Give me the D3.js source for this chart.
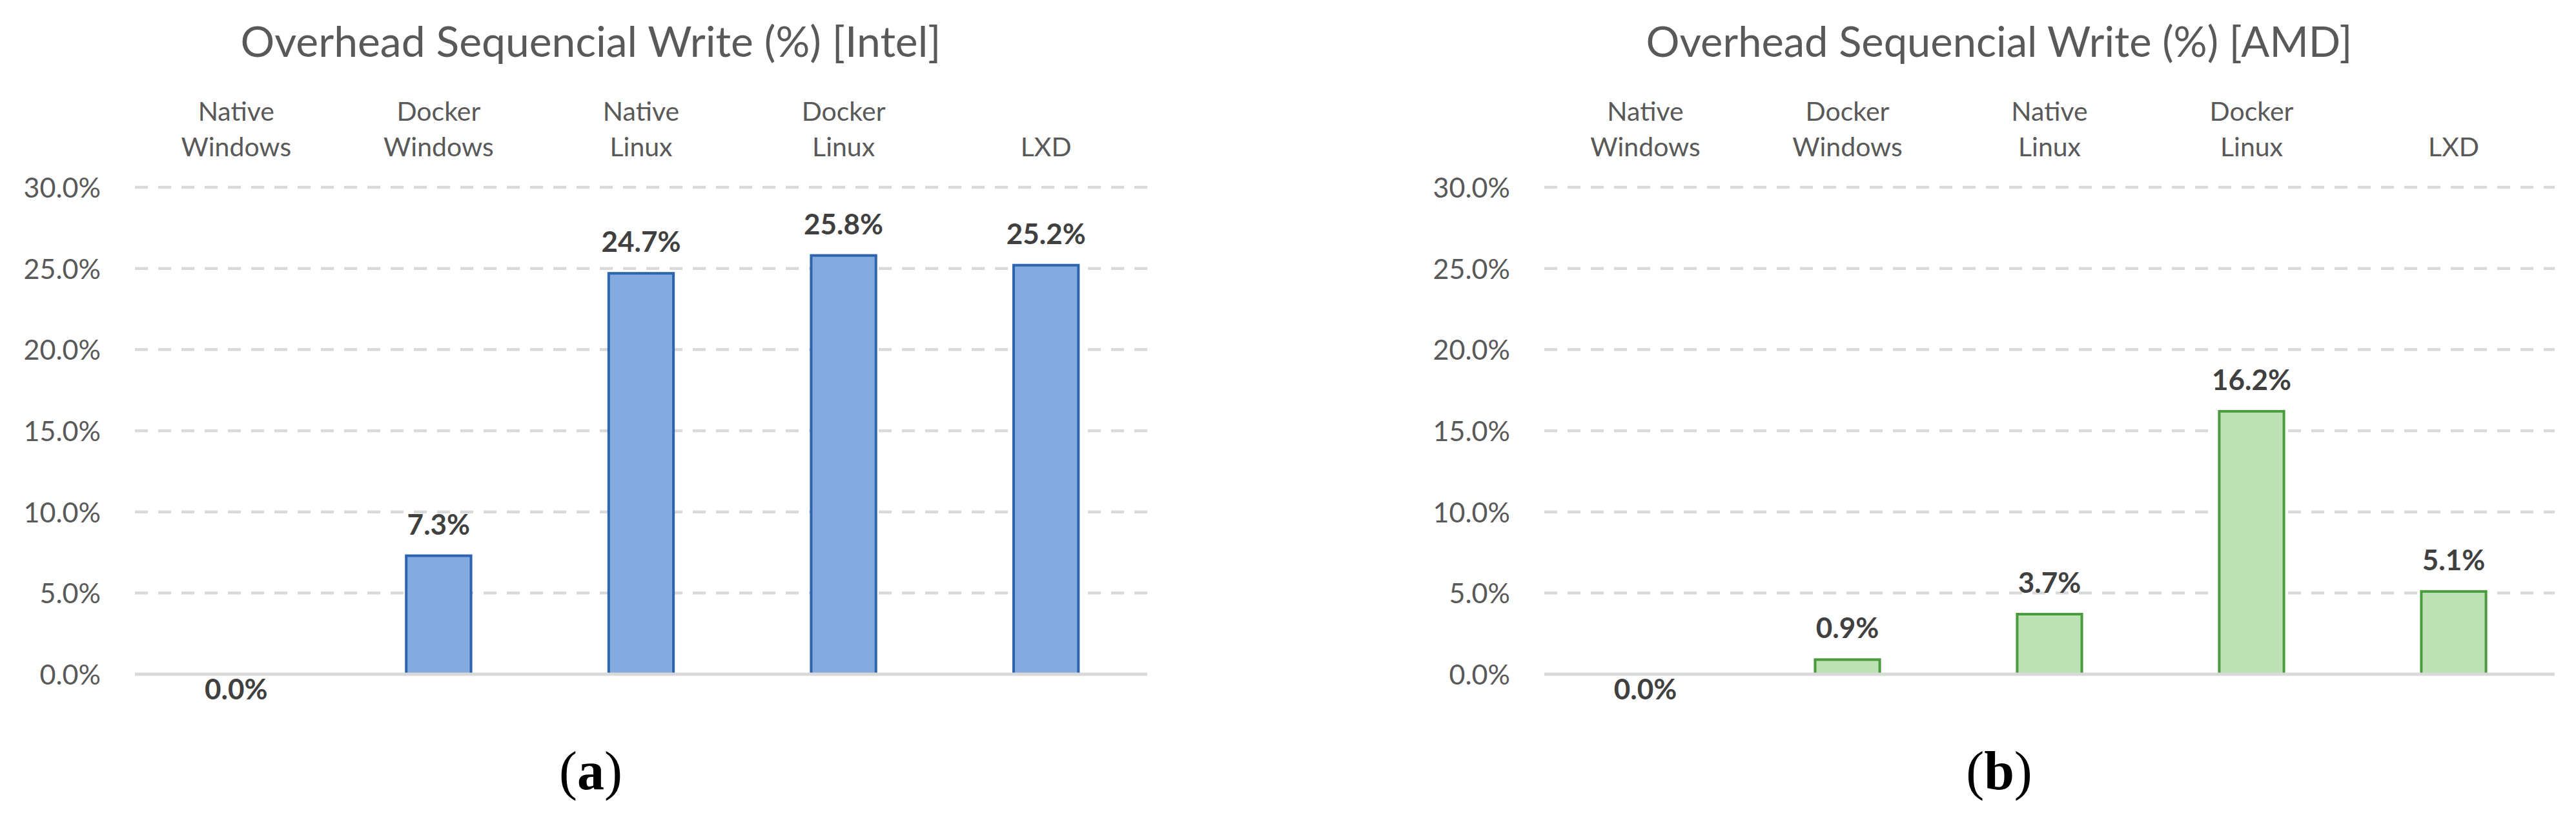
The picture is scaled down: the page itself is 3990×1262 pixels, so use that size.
<!DOCTYPE html>
<html>
<head>
<meta charset="utf-8">
<script src="https://cdn.jsdelivr.net/npm/d3@7"></script>
<style>
  html, body { margin: 0; padding: 0; background: #ffffff; }
  svg { display: block; }
</style>
</head>
<body>
<svg id="chart" width="3990" height="1262"></svg>
<script>
// ---------------- data ----------------
const categories = [["Native", "Windows"], ["Docker", "Windows"], ["Native", "Linux"], ["Docker", "Linux"], ["", "LXD"]];
const categoryKeys = ["Native Windows", "Docker Windows", "Native Linux", "Docker Linux", "LXD"];
const intelValues = [0.0, 7.3, 24.7, 25.8, 25.2];
const amdValues = [0.0, 0.9, 3.7, 16.2, 5.1];
const yTicks = [0, 5, 10, 15, 20, 25, 30];
const titles = ["Overhead Sequencial Write (%) [Intel]", "Overhead Sequencial Write (%) [AMD]"];
const captions = ["a", "b"];

// ---------------- layout / style ----------------
const panels = [
  { x0: 209, x1: 1777, values: intelValues, title: titles[0], caption: captions[0], fill: "#84ABDF", stroke: "#2C64AE", titleW: 1083 },
  { x0: 2392, x1: 3957, values: amdValues, title: titles[1], caption: captions[1], fill: "#BBE1B4", stroke: "#4A9A3E", titleW: 1094 }
];
const yTop = 290, yBottom = 1044;
const sans = "Lato, 'Open Sans', 'Noto Sans', sans-serif";
const textGray = "#595959";
const gridGray = "#D9D9D9";

const svg = d3.select("#chart");

panels.forEach(p => {
  const g = svg.append("g");
  const x = d3.scaleBand().domain(categoryKeys).range([p.x0, p.x1]).paddingInner(0.68).paddingOuter(0.34);
  const y = d3.scaleLinear().domain([0, 30]).range([yBottom, yTop]);
  const cx = (p.x0 + p.x1) / 2 - 78;

  // title
  const t = g.append("text")
    .attr("x", cx).attr("y", 88)
    .attr("text-anchor", "middle")
    .attr("font-family", sans).attr("font-size", 66)
    .attr("fill", textGray)
    .text(p.title);
  const tw = t.node().getComputedTextLength();
  if (Math.abs(tw - p.titleW) > 4) t.attr("textLength", p.titleW).attr("lengthAdjust", "spacingAndGlyphs");

  // gridlines (dashed), excluding 0
  g.append("g").selectAll("line").data(yTicks.filter(d => d > 0)).join("line")
    .attr("x1", p.x0).attr("x2", p.x1)
    .attr("y1", d => y(d)).attr("y2", d => y(d))
    .attr("stroke", gridGray).attr("stroke-width", 4.5)
    .attr("stroke-dasharray", "20 16");

  // y axis labels
  const yAxis = d3.axisLeft(y).tickValues(yTicks).tickSize(0).tickPadding(0)
    .tickFormat(d => d3.format(".1f")(d) + "%");
  const ya = g.append("g").attr("transform", `translate(${p.x0 - 53},0)`).call(yAxis);
  ya.select(".domain").remove();
  ya.selectAll("text")
    .attr("font-family", sans).attr("font-size", 43)
    .attr("fill", textGray).attr("dy", "0.36em");

  // category labels (two lines, top)
  const cat = g.append("g").selectAll("text").data(categoryKeys).join("text")
    .attr("text-anchor", "middle")
    .attr("font-family", sans).attr("font-size", 41)
    .attr("fill", textGray)
    .attr("transform", d => `translate(${x(d) + x.bandwidth() / 2},0)`);
  cat.each(function(d, i) {
    const el = d3.select(this);
    const lines = categories[i];
    if (lines[0]) el.append("tspan").attr("x", 0).attr("y", 187).text(lines[0]);
    el.append("tspan").attr("x", 0).attr("y", 242).text(lines[1]);
  });

  // bars
  g.append("g").selectAll("rect").data(p.values).join("rect")
    .attr("x", (d, i) => x(categoryKeys[i]))
    .attr("width", x.bandwidth())
    .attr("y", d => y(d))
    .attr("height", d => y(0) - y(d))
    .attr("fill", p.fill)
    .attr("stroke", p.stroke)
    .attr("stroke-width", d => d > 0 ? 4 : 0);

  // baseline axis
  g.append("line")
    .attr("x1", p.x0).attr("x2", p.x1)
    .attr("y1", y(0)).attr("y2", y(0))
    .attr("stroke", gridGray).attr("stroke-width", 5);

  // data labels
  g.append("g").selectAll("text").data(p.values).join("text")
    .attr("x", (d, i) => x(categoryKeys[i]) + x.bandwidth() / 2)
    .attr("y", d => d > 0 ? y(d) - 33 : y(0) + 39)
    .attr("text-anchor", "middle")
    .attr("font-family", sans).attr("font-size", 44).attr("font-weight", "bold")
    .attr("fill", "#404040")
    .text(d => d3.format(".1f")(d) + "%");

  // caption
  const c = g.append("text")
    .attr("x", cx).attr("y", 1222)
    .attr("text-anchor", "middle")
    .attr("font-family", "'Liberation Serif', 'Times New Roman', serif")
    .attr("font-size", 84).attr("fill", "#000");
  c.append("tspan").text("(");
  c.append("tspan").attr("font-weight", "bold").text(p.caption);
  c.append("tspan").text(")");
});
</script>
</body>
</html>
